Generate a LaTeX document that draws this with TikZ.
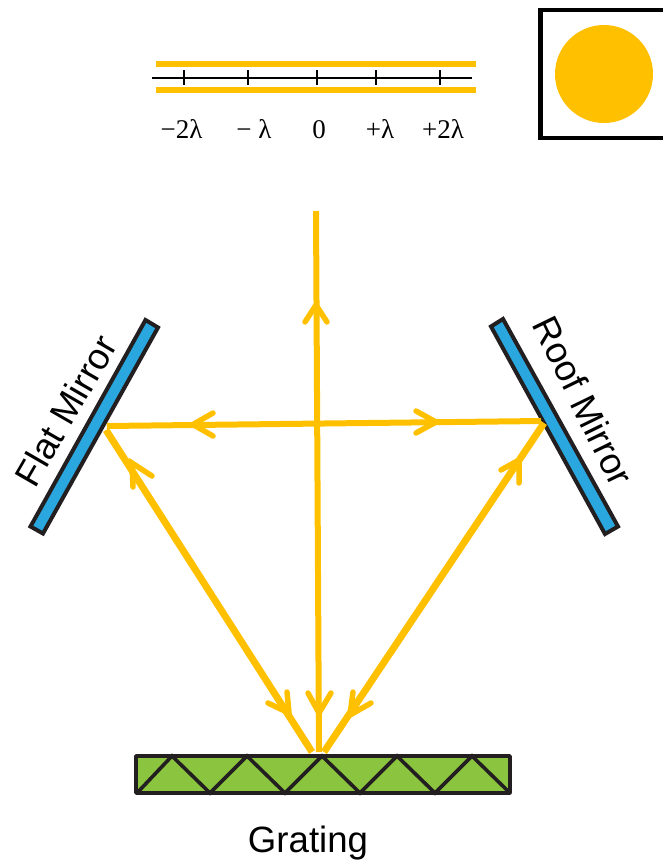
\documentclass[tikz,border=0pt]{standalone}
\usepackage{fontspec}
\setmainfont{Liberation Sans}
\newfontfamily\serifl{Liberation Serif}
\definecolor{ray}{RGB}{255,192,0}
\definecolor{mirr}{RGB}{41,167,222}
\definecolor{grat}{RGB}{139,197,63}
\definecolor{edge}{RGB}{35,31,32}
\tikzset{
  x=1pt,y=-1pt,
  raybeam/.style={draw=ray,line width=6pt},
  raydiag/.style={draw=ray,line width=7pt},
  raywing/.style={draw=ray,line width=5.5pt,line cap=round,line join=miter},
  mirrorbar/.style={draw=edge,fill=mirr,line width=4pt,line join=miter},
  gridline/.style={draw=edge,line width=3.6pt,line cap=round},
  scalebar/.style={draw=ray,line width=6pt},
  axisline/.style={draw=black,line width=1.2pt},
  scalelabel/.style={font=\serifl\fontsize{27}{27}\selectfont,anchor=base,inner sep=0pt},
  sanslabel/.style={font=\fontsize{36.6}{36.6}\selectfont,inner sep=0pt},
}
\begin{document}
\begin{tikzpicture}
\useasboundingbox (0,0) rectangle (663,862);
% scale
\coordinate (b1l) at (156,64); \coordinate (b1r) at (476,64);
\coordinate (b2l) at (156,90); \coordinate (b2r) at (476,90);
\draw[scalebar] (b1l) -- (b1r);
\draw[scalebar] (b2l) -- (b2r);
\coordinate (axl) at (152,78); \coordinate (axr) at (472,78);
\draw[axisline] (axl) -- (axr);
\foreach \n/\x in {a/184,b/248,c/317,d/376,e/440}{
  \coordinate (t\n t) at (\x,70); \coordinate (t\n b) at (\x,85);
  \draw[axisline] (t\n t) -- (t\n b);
}
\node[scalelabel] (lm2) at (181.5,138) {−2λ};
\node[scalelabel] (lm1) at (254,138) {− λ};
\node[scalelabel] (l0) at (319,138) {0};
\node[scalelabel] (lp1) at (380,138) {+λ};
\node[scalelabel] (lp2) at (443,138) {+2λ};
% source
\draw[draw=black,line width=4.4pt] (540.5,10.2) rectangle (675,138);
\fill[ray] (604,74) circle (49);
% mirrors
\draw[mirrorbar] (145.5,320) -- (158,327.5) -- (43,533.5) -- (30.5,526.5) -- cycle;
\draw[mirrorbar] (491,326.5) -- (503,319) -- (618,526.5) -- (605,534) -- cycle;
\node[sanslabel,rotate=60] (flat) at (65.5,410.5) {Flat Mirror};
\node[sanslabel,rotate=-64] (roof) at (583.5,401) {Roof Mirror};
% grating
\draw[draw=edge,fill=grat,line width=3.6pt,line join=round] (136,756) rectangle (510,793);
\draw[gridline] (137,793) -- (172,756) -- (210,793) -- (247,756) -- (285,793) -- (322,756) -- (360,793) -- (397,756) -- (435,793) -- (472,756) -- (510,793);
\node[sanslabel] (grating) at (308,843) {Grating};
% rays
\coordinate (top) at (316,211);
\coordinate (g0) at (319,752);
\coordinate (gl) at (312,752);
\coordinate (gr) at (324,752);
\coordinate (fh) at (107,426);
\coordinate (fd) at (106,430);
\coordinate (rh) at (541,421);
\coordinate (rd) at (544,423);
\draw[raybeam] (top) -- (g0);
\draw[raybeam] (fh) -- (rh);
\draw[raydiag] (fd) -- (gl);
\draw[raydiag] (rd) -- (gr);
\draw[raywing] (305,322) -- (316,305) -- (327,322);
\draw[raywing] (308,693) -- (319,713) -- (331,693);
\draw[raywing] (213,413) -- (193,424.5) -- (213,436);
\draw[raywing] (416,411) -- (436,422) -- (416,433);
\draw[raywing] (152,476) -- (132,463) -- (133,487);
\draw[raywing] (287,692) -- (289,713) -- (268,703);
\draw[raywing] (501,470) -- (519,460) -- (519,483);
\draw[raywing] (353,692) -- (350,715) -- (371,703);
\end{tikzpicture}
\end{document}
